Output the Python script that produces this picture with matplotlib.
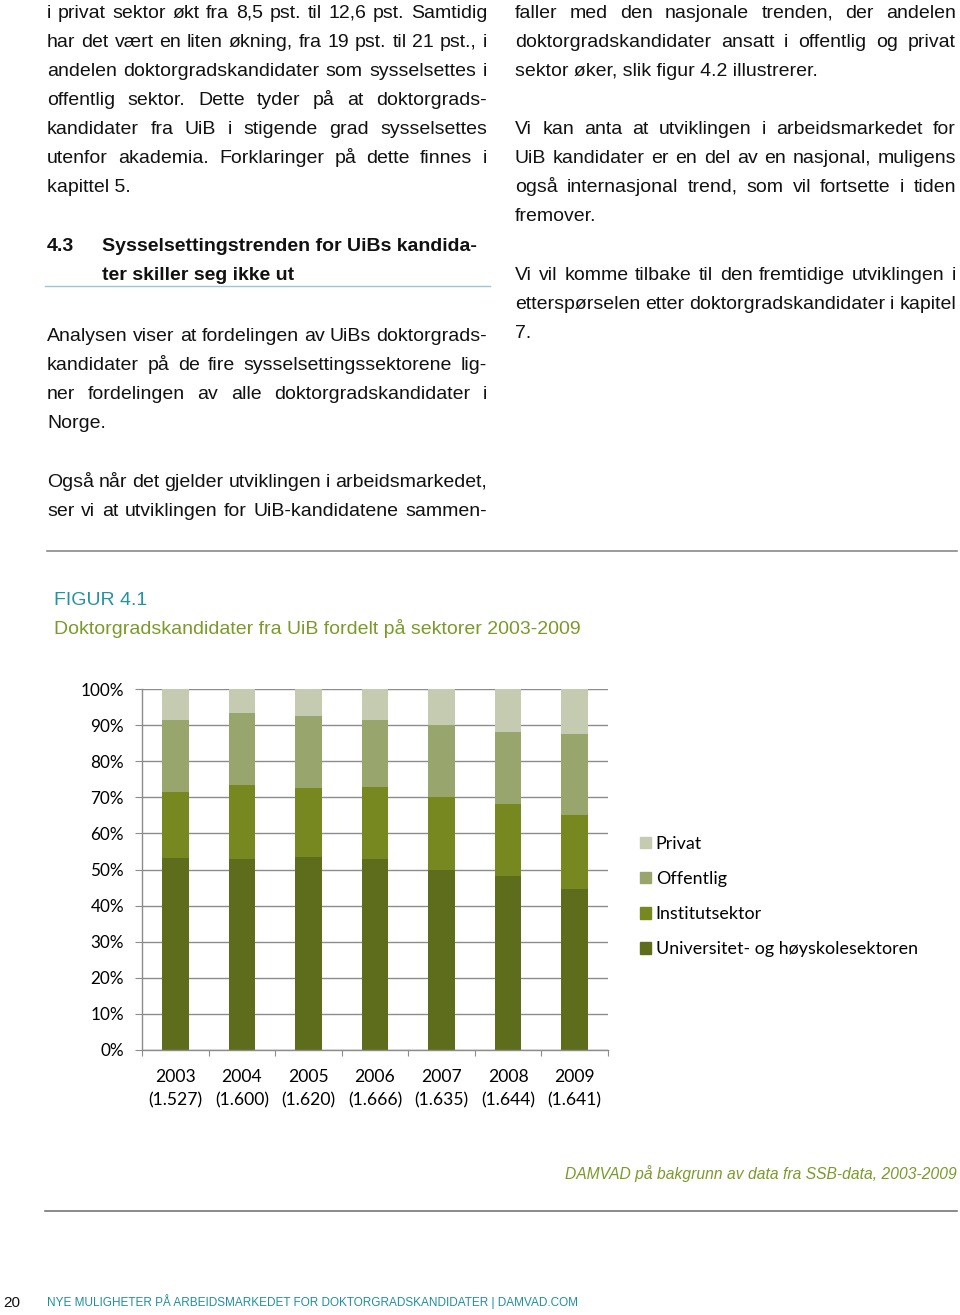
import math

import matplotlib
matplotlib.use("Agg")
import matplotlib.pyplot as plt
from matplotlib.patches import Patch

# data (share of candidates, percent)
years = ["2003", "2004", "2005", "2006", "2007", "2008", "2009"]
totals = ["1.527", "1.600", "1.620", "1.666", "1.635", "1.644", "1.641"]
univ = [53.1, 53.0, 53.6, 53.0, 50.0, 48.2, 44.7]
inst = [18.4, 20.4, 19.0, 19.8, 20.2, 19.9, 20.3]
offentlig = [19.9, 19.9, 19.8, 18.6, 19.9, 20.1, 22.4]
privat = [8.6, 6.7, 7.6, 8.6, 9.9, 11.8, 12.6]
sectors = ["Universitet- og høyskolesektoren", "Institutsektor", "Offentlig", "Privat"]
colors = ["#5e6d1c", "#76881f", "#98a56c", "#c4cbb1"]

para_privat = ["i privat sektor økt fra 8,5 pst. til 12,6 pst.  Samtidig",
               "har det vært en liten økning, fra 19 pst. til 21 pst., i",
               "andelen doktorgradskandidater som sysselsettes i",
               "offentlig sektor. Dette tyder på at doktorgrads-",
               "kandidater fra UiB i stigende grad sysselsettes",
               "utenfor akademia. Forklaringer på dette finnes i",
               "kapittel 5."]
para_analyse = ["Analysen viser at fordelingen av UiBs doktorgrads-",
                "kandidater på de fire sysselsettingssektorene lig-",
                "ner fordelingen av alle doktorgradskandidater i",
                "Norge."]
para_ogsa = ["Også når det gjelder utviklingen i arbeidsmarkedet,",
             "ser vi at utviklingen for UiB-kandidatene sammen-"]
right_paras = [
    ["faller med den nasjonale trenden, der andelen",
     "doktorgradskandidater ansatt i offentlig og privat",
     "sektor øker, slik figur 4.2 illustrerer."],
    ["Vi kan anta at utviklingen i arbeidsmarkedet for",
     "UiB kandidater er en del av en nasjonal, muligens",
     "også internasjonal trend, som vil fortsette i tiden",
     "fremover."],
    ["Vi vil komme tilbake til den fremtidige utviklingen i",
     "etterspørselen etter doktorgradskandidater i kapitel",
     "7."],
]

W, H = 960, 1315
fig = plt.figure(figsize=(W / 100, H / 100), dpi=100)
page = fig.add_axes([0, 0, 1, 1])
page.set_xlim(0, W)
page.set_ylim(H, 0)
page.axis("off")
renderer = fig.canvas.get_renderer()

body = dict(family="Liberation Sans", fontsize=14, color="#111111", va="baseline")
step = 29


def word_text(x, y, word, **kw):
    # Agg puts the glyph bitmap by its descent, which rounds differently for
    # words with and without descenders; shift so all words share a baseline
    t = page.text(x, y, word, **kw)
    w, h, d = renderer.get_text_width_height_descent(word, t.get_fontproperties(), ismath=False)
    k = math.floor(h) - math.floor(h - d)
    t.set_y(y + k - d)
    return t, w


def draw_lines(lines, x0, x1, y0, justify_last=False, **kw):
    for i, line in enumerate(lines):
        y = y0 + i * step
        last = i == len(lines) - 1
        words = line.split()
        if (last and not justify_last) or len(words) < 2:
            word_text(x0, y, line, **kw)
            continue
        placed = [word_text(x0, y, w, **kw) for w in words]
        gap = (x1 - x0 - sum(w for _, w in placed)) / (len(words) - 1)
        x = x0
        for t, w in placed:
            t.set_x(x)
            x += w + gap


draw_lines(para_privat, 47, 487, 18, **body)
page.text(47, 251, "4.3", fontweight="bold", **body)
page.text(102, 251, "Sysselsettingstrenden for UiBs kandida-", fontweight="bold", **body)
page.text(102, 280, "ter skiller seg ikke ut", fontweight="bold", **body)
page.plot([45, 490], [286, 286], color="#9cc4d2", lw=1)
draw_lines(para_analyse, 47, 487, 341, **body)
draw_lines(para_ogsa, 47, 487, 487, justify_last=True, **body)

for p, y0 in zip(right_paras, [18, 134, 280]):
    draw_lines(p, 515, 956, y0, **body)

page.plot([47, 957], [551, 551], color="#8a8a8a", lw=1.2)

page.text(54, 605, "FIGUR 4.1", family="Liberation Sans", fontsize=14,
          color="#2392a3", va="baseline")
page.text(54, 634, "Doktorgradskandidater fra UiB fordelt på sektorer 2003-2009",
          family="Liberation Sans", fontsize=14, color="#7b9a2a", va="baseline")

page.text(957, 1179, "DAMVAD på bakgrunn av data fra SSB-data, 2003-2009",
          family="Liberation Sans", fontsize=11.25, style="italic", color="#7b9a2a",
          ha="right", va="baseline")
page.plot([45, 957], [1211, 1211], color="#777777", lw=1.2)
page.text(3, 1307, "20", family="Liberation Sans", fontsize=11, color="#111111",
          va="baseline")
page.text(47, 1306, "NYE MULIGHETER PÅ ARBEIDSMARKEDET FOR DOKTORGRADSKANDIDATER | DAMVAD.COM",
          family="Liberation Sans", fontsize=8.45, color="#1f8fa0", va="baseline")

# chart
ax = fig.add_axes([142 / W, 1 - 1050 / H, (608 - 142) / W, (1050 - 689) / H])
x = list(range(len(years)))
bottom = [0.0] * len(years)
for vals, name, c in zip([univ, inst, offentlig, privat], sectors, colors):
    ax.bar(x, vals, width=0.4, bottom=bottom, color=c, label=name, zorder=2)
    bottom = [b + v for b, v in zip(bottom, vals)]

grid_c = "#8c8c8c"
ax.set_xlim(-0.5, len(years) - 0.5)
ax.set_ylim(0, 100)
ax.set_yticks(range(0, 101, 10))
ax.set_yticklabels([f"{v}%" for v in range(0, 101, 10)], family="Lato", fontsize=12.3)
ax.yaxis.grid(True, color=grid_c, lw=1)
ax.set_axisbelow(True)
ax.set_xticks([i + 0.5 for i in range(-1, len(years))], minor=False)
ax.set_xticklabels([])
ax.set_xticks(x, minor=True)
ax.set_xticklabels([f"{y}\n({t})" for y, t in zip(years, totals)], minor=True,
                   family="Lato", fontsize=12.6, linespacing=1.5)
ax.tick_params(axis="x", which="minor", length=0, pad=14)
ax.tick_params(axis="x", which="major", length=4, color=grid_c, direction="out")
ax.tick_params(axis="y", length=5, color=grid_c, pad=8)
for s in ["top", "right"]:
    ax.spines[s].set_visible(False)
for s in ["left", "bottom"]:
    ax.spines[s].set_color(grid_c)
    ax.spines[s].set_linewidth(1)

handles = [Patch(color=c) for c in colors][::-1]
fig.legend(handles, sectors[::-1], loc="center left",
           bbox_to_anchor=(624 / W, 1 - 896.5 / H), frameon=False,
           prop={"family": "Lato", "size": 12.9}, handlelength=0.62, handleheight=0.62,
           handletextpad=0.25, labelspacing=1.07)

fig.savefig("out.png", dpi=100)
